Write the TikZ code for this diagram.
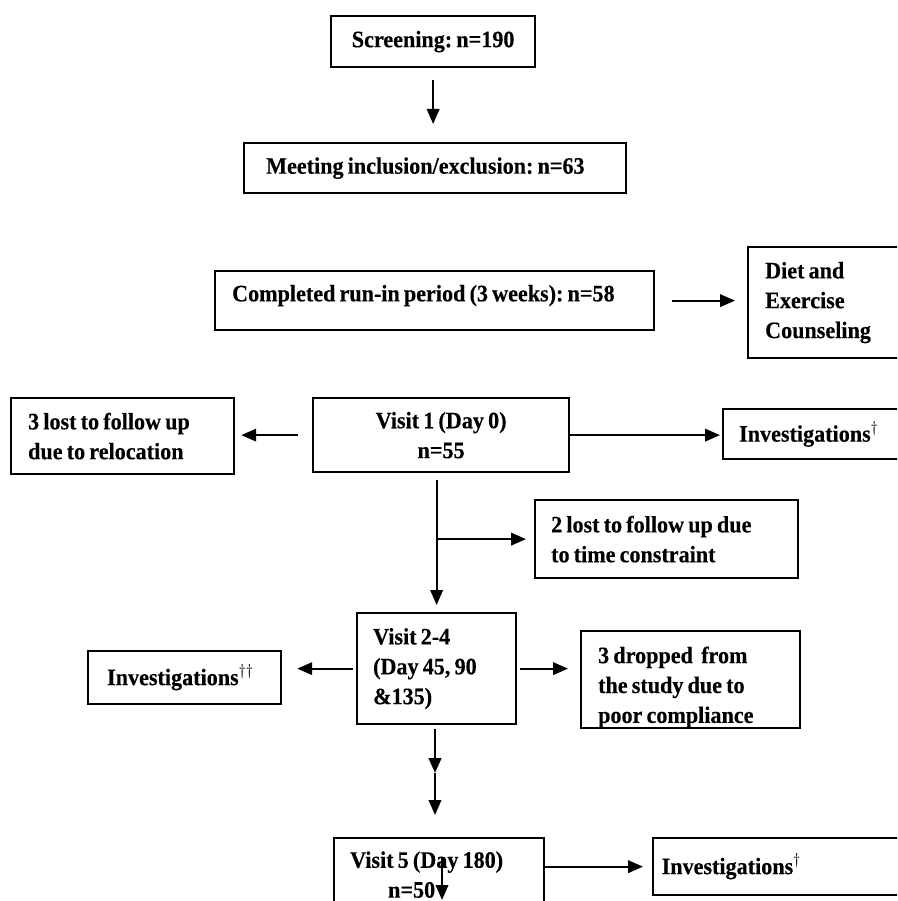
\documentclass[tikz,border=0pt]{standalone}
\usepackage{fontspec}
\setmainfont{Liberation Serif}[FakeStretch=0.94, WordSpace=0.75, BoldFeatures={FakeBold=0.3, WordSpace=0.75}]
\usetikzlibrary{arrows.meta}

\begin{document}
\frenchspacing
\begin{tikzpicture}[x=0.02cm, y=-0.02cm,
  box/.style={draw, line width=1.3pt, inner sep=0pt, anchor=north west, align=flush left},
  arr/.style={line width=1.2pt, -{Triangle[length=0.3cm, width=0.25cm]}},
  every node/.style={font=\fontsize{13.4}{17}\selectfont\bfseries}]

\useasboundingbox (0,0) rectangle (897,901);
\clip (0,0) rectangle (897,901);

% boxes
\node[box, align=flush center, minimum width=4.08cm, minimum height=1.02cm] (screen) at (330,15) {Screening: n=190};
\node[box, minimum width=7.64cm, minimum height=1.0cm, text width=6.76cm] (meet) at (243,142) {Meeting inclusion/exclusion: n=63};
\node[box, minimum width=8.78cm, minimum height=1.18cm, text width=8.1cm, text depth=0.3cm] (runin) at (214,270) {Completed run-in period (3 weeks): n=58};
\node[box, minimum width=3.16cm, minimum height=2.22cm, text width=2.48cm] (diet) at (747,246) {Diet and\\Exercise\\Counseling};
\node[box, minimum width=4.46cm, minimum height=1.52cm, text width=3.78cm] (lostA) at (10,397) {3 lost to follow up\\due to relocation};
\node[box, align=flush center, minimum width=5.12cm, minimum height=1.48cm] (visA) at (312,397) {Visit 1 (Day 0)\\n=55};
\node[box, minimum width=3.66cm, minimum height=1.0cm, text width=3.02cm] (invA) at (722,408) {Investigations$^{\dagger}$};
\node[box, minimum width=5.26cm, minimum height=1.56cm, text width=4.62cm] (lostB) at (534,499) {2 lost to follow up due\\to time constraint};
\node[box, minimum width=3.18cm, minimum height=2.22cm, text width=2.54cm] (visB) at (356,612) {Visit 2-4\\(Day 45, 90\\\&135)};
\node[box, minimum width=3.86cm, minimum height=1.06cm, text width=3.1cm] (invB) at (87,650) {Investigations$^{\dagger\dagger}$};
\node[box, minimum width=4.38cm, minimum height=1.86cm, text width=3.7cm] (drop) at (580,630) {\rule{0pt}{0.64cm}3 dropped\ \ from\\the study due to\\poor compliance};
\node[box, minimum width=4.2cm, minimum height=1.46cm, text width=3.56cm] (visC) at (333,837) {Visit 5 (Day 180)\\\hspace*{0.76cm}n=50};
\node[box, minimum width=5.06cm, minimum height=1.14cm, text width=4.72cm] (invC) at (652,837) {Investigations$^{\dagger}$};

% arrows
\draw[arr, shorten <=0.24cm, shorten >=0.36cm] (screen.south) -- (screen.south |- meet.north);
\draw[arr, shorten <=0.34cm, shorten >=0.24cm] (runin.east) -- (runin.east -| diet.west);
\draw[arr, shorten <=0.28cm, shorten >=0.12cm] (visA.west) -- (visA.west -| lostA.east);
\draw[arr, shorten >=0.04cm] (visA.east) -- (visA.east -| invA.west);
\draw[arr, shorten <=0.14cm, shorten >=0.14cm] (visB.north |- visA.south) -- (visB.north);
\draw[arr, shorten >=0.16cm] (visB.north |- lostB.west) -- (lostB.west);
\draw[arr, shorten <=0.06cm, shorten >=0.3cm] (visB.west) -- (visB.west -| invB.east);
\draw[arr, shorten <=0.06cm, shorten >=0.24cm] (visB.east) -- (visB.east -| drop.west);
\coordinate (half) at (435,773);
\draw[arr, line width=1.6pt, shorten <=0.08cm] (visB.south -| half) -- (half);
\draw[arr, shorten >=0.44cm] (half) -- (half |- visC.north);
\draw[arr, shorten >=0.18cm] (invC.west -| visC.east) -- (invC.west);
\coordinate (strayA) at (442,858);
\coordinate (strayB) at (442,900);
\draw[arr] (strayA) -- (strayB);
\end{tikzpicture}
\end{document}
